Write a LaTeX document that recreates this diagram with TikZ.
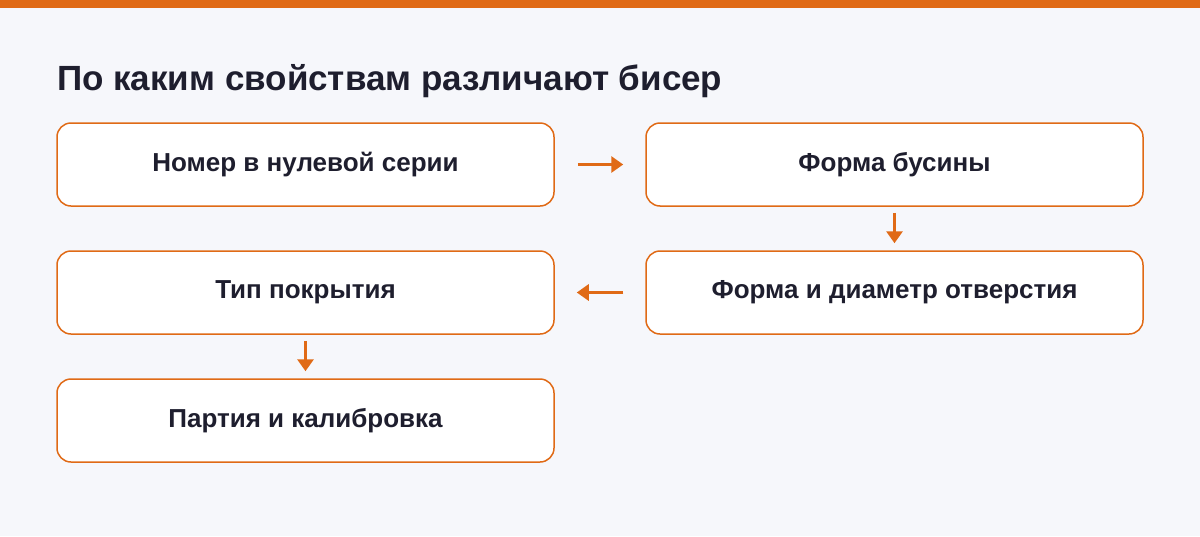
\documentclass[tikz,border=0pt]{standalone}
\usepackage{fontspec}
\setmainfont{Liberation Sans}
\usetikzlibrary{positioning,arrows.meta}
\definecolor{bgcol}{HTML}{F6F7FB}
\definecolor{orangecol}{HTML}{E06A16}
\definecolor{textcol}{HTML}{1E1E2E}
\tikzset{
    stepbox/.style={draw=orangecol, line width=1.5pt, fill=white, rounded corners=14pt,
        minimum width=497pt, minimum height=83pt, inner sep=0pt,
        font=\fontsize{26}{30}\selectfont\bfseries, text=textcol},
    flow/.style={draw=orangecol, line width=3pt, -{Triangle[length=12pt,width=16pt]}}
}
\begin{document}
\begin{tikzpicture}[x=1pt, y=-1pt]
    \useasboundingbox (0,0) rectangle (1200,536);
    \fill[bgcol] (0,0) rectangle (1200,536);
    \fill[orangecol] (0,0) rectangle (1200,8);
    \node[anchor=base west, text=textcol, font=\fontsize{35}{40}\selectfont\bfseries, inner sep=0pt]
        (title) at (57,90) {По каким свойствам различают бисер};
    % boxes
    \node[stepbox] (number) at (305.5,164.5) {Номер в нулевой серии};
    \node[stepbox] (shape) at (894.5,164.5) {Форма бусины};
    \node[stepbox] (hole) at (894.5,292.5) {Форма и диаметр отверстия};
    \node[stepbox] (coat) at (305.5,292.5) {Тип покрытия};
    \node[stepbox] (batch) at (305.5,420.5) {Партия и калибровка};
    % arrows
    \draw[flow, shorten <=23pt, shorten >=22pt] (number) -- (shape);
    \draw[flow, shorten <=6pt, shorten >=7pt] (shape) -- (hole);
    \draw[flow, shorten <=22pt, shorten >=22pt] (hole) -- (coat);
    \draw[flow, shorten <=6pt, shorten >=7pt] (coat) -- (batch);
\end{tikzpicture}
\end{document}
